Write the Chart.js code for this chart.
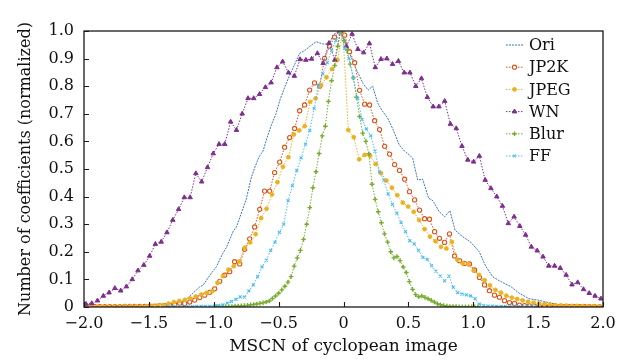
<!DOCTYPE html>
<html><head><meta charset="utf-8">
<script src="https://cdn.jsdelivr.net/npm/chart.js@4.4.1/dist/chart.umd.min.js"></script>
<style>html,body{margin:0;padding:0;background:#fff;}#wrap{width:634px;height:362px;}</style>
</head><body><div id="wrap"><canvas id="c" width="634" height="362"></canvas></div>
<script>
const seriesNames = ['Ori','JP2K','JPEG','WN','Blur','FF'];
const xTicks = [-2,-1.5,-1,-0.5,0,0.5,1,1.5,2];
const yTicks = [0,0.1,0.2,0.3,0.4,0.5,0.6,0.7,0.8,0.9,1.0];
const xTitle = 'MSCN of cyclopean image';
const yTitle = 'Number of coefficients (normalized)';

const oriX = [-2.0,-1.8,-1.6,-1.5,-1.4,-1.34,-1.3,-1.26,-1.22,-1.16,-1.11,-1.08,-1.03,-0.98,-0.93,-0.90,-0.85,-0.825,-0.78,-0.75,-0.71,-0.68,-0.65,-0.62,-0.595,-0.556,-0.52,-0.49,-0.45,-0.415,-0.38,-0.338,-0.30,-0.25,-0.21,-0.16,-0.108,-0.08,-0.03,0.008,0.046,0.10,0.15,0.19,0.225,0.264,0.30,0.34,0.38,0.43,0.47,0.508,0.533,0.572,0.61,0.656,0.69,0.738,0.78,0.82,0.86,0.918,0.98,1.046,1.098,1.15,1.19,1.238,1.29,1.354,1.43,1.51,1.60,1.70,1.80,1.90,2.0];
const oriY = [0,0.001,0.002,0.004,0.006,0.009,0.012,0.014,0.025,0.05,0.072,0.08,0.115,0.146,0.195,0.218,0.275,0.29,0.35,0.39,0.47,0.51,0.545,0.565,0.605,0.66,0.70,0.75,0.80,0.84,0.875,0.919,0.929,0.948,0.961,0.953,0.953,0.986,1.0,0.967,0.92,0.86,0.81,0.786,0.80,0.738,0.71,0.685,0.645,0.587,0.565,0.551,0.539,0.46,0.463,0.394,0.385,0.345,0.327,0.349,0.278,0.255,0.235,0.2,0.146,0.11,0.098,0.086,0.074,0.05,0.03,0.024,0.014,0.006,0.003,0.001,0];

const jp2kX = [-1.994,-1.955,-1.917,-1.878,-1.840,-1.801,-1.763,-1.724,-1.686,-1.647,-1.609,-1.570,-1.532,-1.493,-1.455,-1.416,-1.378,-1.339,-1.301,-1.262,-1.224,-1.185,-1.147,-1.108,-1.070,-1.031,-0.993,-0.954,-0.916,-0.877,-0.839,-0.800,-0.762,-0.723,-0.685,-0.646,-0.608,-0.569,-0.531,-0.492,-0.454,-0.415,-0.377,-0.338,-0.300,-0.261,-0.223,-0.184,-0.146,-0.107,-0.069,-0.030,0.009,0.047,0.086,0.124,0.163,0.201,0.240,0.278,0.317,0.355,0.394,0.432,0.471,0.509,0.548,0.586,0.625,0.663,0.702,0.740,0.779,0.817,0.856,0.894,0.933,0.971,1.010,1.048,1.087,1.125,1.164,1.202,1.241,1.279,1.318,1.356,1.395,1.433,1.472,1.510,1.549,1.587,1.626,1.664,1.703,1.741,1.780,1.818,1.857,1.895,1.934,1.972];
const jp2kY = [0.001,0.001,0.001,0.001,0.001,0.001,0.001,0.001,0.002,0.002,0.002,0.002,0.002,0.003,0.003,0.004,0.005,0.007,0.009,0.014,0.013,0.018,0.025,0.034,0.043,0.053,0.066,0.093,0.115,0.128,0.164,0.156,0.209,0.247,0.290,0.354,0.420,0.420,0.487,0.525,0.579,0.614,0.647,0.711,0.732,0.786,0.812,0.800,0.901,0.945,0.978,1.000,0.985,0.925,0.885,0.785,0.735,0.732,0.675,0.643,0.582,0.554,0.516,0.495,0.463,0.418,0.388,0.351,0.320,0.318,0.273,0.249,0.234,0.265,0.185,0.168,0.158,0.156,0.134,0.107,0.080,0.059,0.043,0.035,0.023,0.016,0.013,0.007,0.005,0.004,0.003,0.002,0.002,0.002,0.001,0.001,0.001,0.001,0.001,0.001,0.001,0.001,0.001,0.001];

const jpegX = [-1.979,-1.937,-1.895,-1.853,-1.811,-1.769,-1.727,-1.685,-1.643,-1.601,-1.559,-1.517,-1.475,-1.433,-1.391,-1.349,-1.307,-1.265,-1.223,-1.181,-1.139,-1.097,-1.055,-1.013,-0.971,-0.929,-0.887,-0.845,-0.803,-0.761,-0.719,-0.677,-0.635,-0.593,-0.551,-0.509,-0.467,-0.425,-0.383,-0.341,-0.299,-0.257,-0.215,-0.173,-0.131,-0.089,-0.047,-0.005,0.037,0.079,0.121,0.163,0.205,0.247,0.289,0.331,0.373,0.415,0.457,0.499,0.541,0.583,0.625,0.667,0.709,0.751,0.793,0.835,0.877,0.919,0.961,1.003,1.045,1.087,1.129,1.171,1.213,1.255,1.297,1.339,1.381,1.423,1.465,1.507,1.549,1.591,1.633,1.675,1.717,1.759,1.801,1.843,1.885,1.927,1.969];
const jpegY = [0.001,0.001,0.001,0.001,0.001,0.001,0.001,0.002,0.002,0.002,0.002,0.003,0.004,0.005,0.007,0.012,0.018,0.022,0.026,0.031,0.038,0.045,0.051,0.057,0.088,0.112,0.135,0.148,0.165,0.215,0.234,0.264,0.322,0.356,0.408,0.452,0.508,0.543,0.625,0.640,0.655,0.743,0.756,0.804,0.832,0.862,0.895,1.000,0.641,0.615,0.535,0.551,0.548,0.518,0.485,0.458,0.432,0.405,0.378,0.364,0.345,0.315,0.282,0.255,0.238,0.218,0.212,0.236,0.172,0.158,0.155,0.132,0.116,0.097,0.078,0.062,0.052,0.041,0.034,0.029,0.024,0.019,0.016,0.013,0.011,0.009,0.007,0.006,0.005,0.004,0.004,0.003,0.003,0.003,0.002];

const wnX = [-1.985,-1.940,-1.896,-1.851,-1.807,-1.762,-1.717,-1.673,-1.628,-1.584,-1.539,-1.494,-1.450,-1.405,-1.361,-1.316,-1.271,-1.227,-1.182,-1.138,-1.093,-1.048,-1.004,-0.959,-0.915,-0.870,-0.825,-0.781,-0.736,-0.692,-0.647,-0.602,-0.558,-0.513,-0.469,-0.424,-0.379,-0.335,-0.290,-0.246,-0.201,-0.157,-0.112,-0.067,-0.023,0.022,0.066,0.111,0.155,0.200,0.245,0.289,0.334,0.378,0.423,0.468,0.512,0.557,0.601,0.646,0.691,0.735,0.780,0.824,0.869,0.913,0.958,1.003,1.047,1.092,1.136,1.181,1.225,1.270,1.315,1.359,1.404,1.448,1.493,1.538,1.582,1.627,1.671,1.716,1.761,1.805,1.850,1.894,1.939,1.984];
const wnY = [0.011,0.013,0.023,0.040,0.052,0.068,0.059,0.074,0.100,0.132,0.152,0.185,0.228,0.236,0.270,0.315,0.354,0.397,0.397,0.484,0.454,0.506,0.556,0.590,0.590,0.671,0.641,0.700,0.756,0.756,0.771,0.796,0.813,0.868,0.889,0.849,0.837,0.897,0.895,0.899,0.919,0.883,0.956,0.895,1.000,0.945,0.989,0.934,0.922,0.955,0.868,0.898,0.900,0.880,0.891,0.849,0.849,0.800,0.828,0.760,0.726,0.726,0.746,0.663,0.647,0.583,0.533,0.526,0.547,0.460,0.430,0.400,0.366,0.303,0.327,0.293,0.261,0.218,0.204,0.182,0.149,0.149,0.141,0.116,0.081,0.089,0.064,0.050,0.040,0.030];

const blurX = [-0.980,-0.956,-0.932,-0.908,-0.884,-0.860,-0.836,-0.812,-0.788,-0.764,-0.740,-0.716,-0.692,-0.668,-0.644,-0.620,-0.596,-0.572,-0.548,-0.524,-0.500,-0.476,-0.452,-0.428,-0.404,-0.380,-0.356,-0.332,-0.308,-0.284,-0.260,-0.236,-0.212,-0.188,-0.164,-0.140,-0.116,-0.092,-0.068,-0.044,-0.020,0.004,0.028,0.052,0.076,0.100,0.124,0.148,0.172,0.196,0.220,0.244,0.268,0.292,0.316,0.340,0.364,0.388,0.412,0.436,0.460,0.484,0.508,0.532,0.556,0.580,0.604,0.628,0.652,0.676,0.700,0.724,0.748,0.772,0.796,0.820,0.844,0.868,0.892,0.916,0.940,0.964,0.988,1.012,1.036];
const blurY = [0.001,0.001,0.001,0.001,0.002,0.002,0.003,0.003,0.004,0.005,0.006,0.008,0.009,0.011,0.013,0.015,0.018,0.022,0.031,0.040,0.050,0.062,0.075,0.090,0.110,0.148,0.178,0.205,0.245,0.300,0.360,0.432,0.490,0.556,0.620,0.655,0.745,0.820,0.875,0.945,1.000,0.965,0.930,0.880,0.830,0.760,0.690,0.630,0.600,0.555,0.445,0.390,0.345,0.305,0.265,0.235,0.200,0.178,0.183,0.168,0.145,0.125,0.092,0.064,0.045,0.037,0.040,0.035,0.030,0.024,0.018,0.012,0.008,0.005,0.003,0.002,0.002,0.002,0.001,0.001,0.001,0.001,0.001,0.001,0.001];

const ffX = [-1.365,-1.332,-1.298,-1.265,-1.231,-1.198,-1.164,-1.131,-1.097,-1.064,-1.030,-0.997,-0.963,-0.930,-0.896,-0.863,-0.829,-0.796,-0.762,-0.729,-0.695,-0.662,-0.628,-0.595,-0.561,-0.528,-0.494,-0.461,-0.427,-0.394,-0.360,-0.327,-0.293,-0.260,-0.226,-0.193,-0.159,-0.126,-0.092,-0.059,-0.025,0.009,0.042,0.076,0.109,0.143,0.176,0.210,0.243,0.277,0.310,0.344,0.377,0.411,0.444,0.478,0.511,0.545,0.578,0.612,0.645,0.679,0.712,0.746,0.779,0.813,0.846,0.880,0.913,0.947,0.980,1.014,1.047,1.081,1.114,1.148,1.181,1.215,1.248,1.282,1.315,1.349,1.382,1.416,1.449,1.483];
const ffY = [0.001,0.001,0.001,0.001,0.001,0.001,0.001,0.002,0.002,0.002,0.002,0.003,0.005,0.008,0.014,0.020,0.028,0.037,0.036,0.058,0.080,0.110,0.145,0.170,0.205,0.235,0.270,0.300,0.385,0.440,0.495,0.540,0.590,0.640,0.720,0.800,0.845,0.885,0.930,0.965,1.000,0.937,0.900,0.830,0.756,0.680,0.645,0.620,0.565,0.490,0.460,0.410,0.372,0.340,0.306,0.273,0.240,0.229,0.205,0.180,0.173,0.150,0.130,0.112,0.095,0.112,0.072,0.052,0.047,0.044,0.040,0.030,0.010,0.005,0.003,0.003,0.002,0.002,0.002,0.001,0.001,0.001,0.001,0.001,0.001,0.001];

function pts(xs, ys){ const n=Math.min(xs.length, ys.length); const out=[]; for(let i=0;i<n;i++) out.push({x:xs[i], y:ys[i]}); return out; }

const FONT = '"DejaVu Serif", "Liberation Serif", serif';

const datasets = [
  {label:seriesNames[0], data:pts(oriX,oriY), borderColor:'#3a74c8', backgroundColor:'#3a74c8', borderWidth:1, borderDash:[2,1], pointRadius:0, pointStyle:'circle', order:5},
  {label:seriesNames[1], data:pts(jp2kX,jp2kY), borderColor:'#d95319', backgroundColor:'#ffffff', borderWidth:1, borderDash:[1.5,1.5], pointRadius:2.1, pointBorderWidth:1.1, pointStyle:'circle', order:4},
  {label:seriesNames[2], data:pts(jpegX,jpegY), borderColor:'#edb120', backgroundColor:'#edb120', borderWidth:1, borderDash:[1.5,1.5], pointRadius:1.9, pointBorderWidth:1, pointStyle:'circle', order:3},
  {label:seriesNames[3], data:pts(wnX,wnY), borderColor:'#7e2f8e', backgroundColor:'#7e2f8e', borderWidth:1, borderDash:[1.5,1.5], pointRadius:2.6, pointBorderWidth:1, pointStyle:'triangle', order:2},
  {label:seriesNames[4], data:pts(blurX,blurY), borderColor:'#77ac30', backgroundColor:'#77ac30', borderWidth:1, borderDash:[1.5,1.5], pointRadius:2.3, pointBorderWidth:1.4, pointStyle:'cross', order:1},
  {label:seriesNames[5], data:pts(ffX,ffY), borderColor:'#4dbeee', backgroundColor:'#4dbeee', borderWidth:1, borderDash:[1.5,1.5], pointRadius:2.1, pointBorderWidth:1.1, pointStyle:'crossRot', order:0}
];

function fmt(v){ if (Math.abs(v) < 1e-9) return '0'; return v.toFixed(1).replace('-', '\u2212'); }

const framePlugin = {
  id:'frame',
  afterDatasetsDraw(chart){
    const {ctx, chartArea:a, scales:{x, y}} = chart;
    ctx.save();
    ctx.strokeStyle = '#1a1a1a';
    ctx.lineWidth = 1.3;
    ctx.strokeRect(a.left, a.top, a.right - a.left, a.bottom - a.top);
    ctx.lineWidth = 1.1;
    ctx.beginPath();
    xTicks.forEach(v => { const px = Math.round(x.getPixelForValue(v)) + 0.5; ctx.moveTo(px, a.bottom); ctx.lineTo(px, a.bottom - 5); });
    yTicks.forEach(v => { const py = Math.round(y.getPixelForValue(v)) + 0.5; ctx.moveTo(a.left, py); ctx.lineTo(a.left + 5, py); });
    ctx.stroke();
    // legend
    const lx0 = a.right - 97, lx1 = a.right - 80, tx = a.right - 74;
    let ly = a.top + 14;
    const step = 22.2;
    chart.data.datasets.forEach((ds) => {
      ctx.save();
      ctx.strokeStyle = ds.borderColor; ctx.lineWidth = 1; ctx.setLineDash(ds.borderDash || []);
      ctx.beginPath(); ctx.moveTo(lx0, ly); ctx.lineTo(lx1, ly); ctx.stroke();
      ctx.setLineDash([]);
      if (ds.pointRadius > 0) {
        ctx.fillStyle = ds.backgroundColor; ctx.strokeStyle = ds.borderColor; ctx.lineWidth = ds.pointBorderWidth;
        Chart.helpers.drawPoint(ctx, {pointStyle: ds.pointStyle, radius: ds.pointRadius, rotation: 0, borderWidth: ds.pointBorderWidth}, (lx0 + lx1) / 2, ly);
      }
      ctx.restore();
      ctx.fillStyle = '#111'; ctx.font = '16px ' + FONT; ctx.textBaseline = 'middle'; ctx.textAlign = 'left';
      ctx.fillText(ds.label, tx, ly + 1);
      ly += step;
    });
    ctx.restore();
  }
};

new Chart(document.getElementById('c'), {
  type: 'line',
  data: { datasets },
  options: {
    responsive: false, animation: false, devicePixelRatio: 1,
    layout: { padding: { top: 31, right: 31, left: 0, bottom: 0 } },
    plugins: { legend: { display: false }, tooltip: { enabled: false } },
    elements: { line: { tension: 0 } },
    scales: {
      x: {
        type: 'linear', min: -2, max: 2,
        afterBuildTicks: s => { s.ticks = xTicks.map(v => ({ value: v })); },
        afterFit: s => { s.height = 55; },
        grid: { display: false, drawTicks: false },
        border: { display: false },
        ticks: { callback: v => fmt(v), color: '#111', font: { family: FONT, size: 16 }, padding: 7, maxRotation: 0, autoSkip: false },
        title: { display: true, text: xTitle, color: '#111', font: { family: FONT, size: 17 }, padding: { top: 0, bottom: 5 } }
      },
      y: {
        type: 'linear', min: 0, max: 1,
        afterBuildTicks: s => { s.ticks = yTicks.map(v => ({ value: v })); },
        afterFit: s => { s.width = 84; },
        grid: { display: false, drawTicks: false },
        border: { display: false },
        ticks: { callback: v => fmt(v), color: '#111', font: { family: FONT, size: 16 }, padding: 10, autoSkip: false },
        title: { display: true, text: yTitle, color: '#111', font: { family: FONT, size: 16 }, padding: { top: 16, bottom: 0 } }
      }
    }
  },
  plugins: [framePlugin]
});
</script>
</body></html>
